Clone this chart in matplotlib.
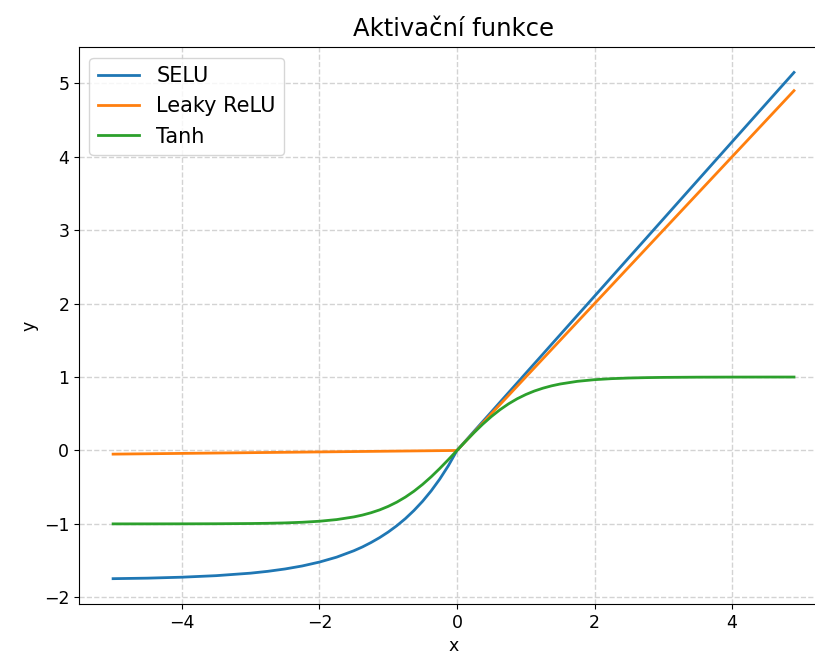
import numpy as np
import matplotlib.pyplot as plt

x = [-5.0, -4.5, -4.0, -3.5, -3.0, -2.75, -2.5, -2.25, -2.0, -1.75, -1.5,
     -1.375, -1.25, -1.125, -1.0, -0.875, -0.75, -0.625, -0.5, -0.375, -0.25,
     -0.125, 0.0, 0.125, 0.25, 0.375, 0.5, 0.625, 0.75, 0.875, 1.0, 1.125,
     1.25, 1.375, 1.5, 1.75, 2.0, 2.25, 2.5, 2.75, 3.0, 3.5, 4.0, 4.5, 4.9]

selu = [-1.746, -1.739, -1.726, -1.705, -1.671, -1.646, -1.614, -1.573, -1.520,
        -1.453, -1.366, -1.314, -1.254, -1.187, -1.111, -1.025, -0.928, -0.817,
        -0.692, -0.550, -0.389, -0.207, 0.0, 0.131, 0.263, 0.394, 0.525, 0.657,
        0.788, 0.919, 1.051, 1.182, 1.313, 1.445, 1.576, 1.839, 2.101, 2.364,
        2.627, 2.889, 3.152, 3.678, 4.203, 4.728, 5.148]

leaky = [-0.05, -0.045, -0.04, -0.035, -0.03, -0.0275, -0.025, -0.0225, -0.02,
         -0.0175, -0.015, -0.01375, -0.0125, -0.01125, -0.01, -0.00875, -0.0075,
         -0.00625, -0.005, -0.00375, -0.0025, -0.00125, 0.0, 0.125, 0.25, 0.375,
         0.5, 0.625, 0.75, 0.875, 1.0, 1.125, 1.25, 1.375, 1.5, 1.75, 2.0, 2.25,
         2.5, 2.75, 3.0, 3.5, 4.0, 4.5, 4.9]

tanh = [-0.9999, -0.9998, -0.9993, -0.9982, -0.9951, -0.9919, -0.9866, -0.9780,
        -0.9640, -0.9414, -0.9051, -0.8800, -0.8483, -0.8096, -0.7616, -0.7039,
        -0.6351, -0.5546, -0.4621, -0.3584, -0.2449, -0.1244, 0.0, 0.1244,
        0.2449, 0.3584, 0.4621, 0.5546, 0.6351, 0.7039, 0.7616, 0.8096, 0.8483,
        0.8800, 0.9051, 0.9414, 0.9640, 0.9780, 0.9866, 0.9919, 0.9951, 0.9982,
        0.9993, 0.9998, 0.9999]

fig = plt.figure(figsize=(8.15, 6.64), dpi=100)
# axes run past the right edge of the picture, as in the reference crop
ax = fig.add_axes([0.097, 0.0904, 0.919, 0.8386])

ax.plot(x, selu, label='SELU', lw=2)
ax.plot(x, leaky, label='Leaky ReLU', lw=2)
ax.plot(x, tanh, label='Tanh', lw=2)

ax.set_title('Aktivační funkce', fontsize=17.5, pad=8)
ax.set_xlabel('x', fontsize=12.5)
ax.set_ylabel('y', fontsize=12.5)
ax.tick_params(labelsize=12.5)
ax.grid(True, ls='--', color='#d3d3d3', lw=1)
ax.legend(loc='upper left', fontsize=15)

fig.savefig('out.png')
